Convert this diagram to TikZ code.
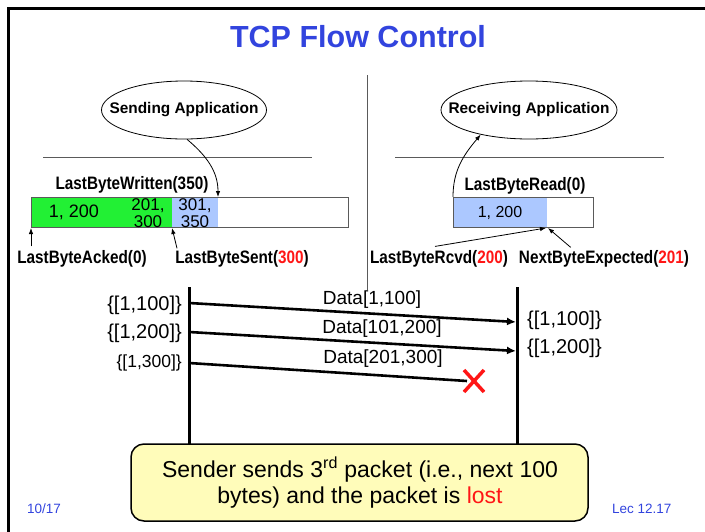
\documentclass[tikz,border=0pt]{standalone}
\usepackage{fontspec}
\setmainfont{Liberation Sans}
\newfontfamily\narrowsans{Liberation Sans}[FakeStretch=0.85]
\usetikzlibrary{shapes.geometric,arrows.meta}

\definecolor{titleblue}{RGB}{50,68,222}
\definecolor{ackgreen}{RGB}{34,240,52}
\definecolor{bufblue}{RGB}{172,200,255}
\definecolor{noteyellow}{RGB}{255,252,186}
\definecolor{lostred}{RGB}{255,22,22}
\definecolor{rulegray}{RGB}{90,90,90}

\tikzset{
  ptrlbl/.style={font=\narrowsans\fontsize{18}{20}\selectfont\bfseries, inner sep=0pt},
  app/.style={ellipse, draw, line width=0.8pt, minimum width=#1, minimum height=58pt, inner sep=0pt},
  applbl/.style={font=\fontsize{15.4}{18}\selectfont\bfseries, inner sep=0pt},
  seqlbl/.style={font=\fontsize{20}{22}\selectfont, inner sep=0pt},
  datalbl/.style={font=\fontsize{19}{22}\selectfont, inner sep=0pt},
  cellval/.style={font=\fontsize{17}{17}\selectfont, align=center, inner sep=0pt},
  ptr/.style={line width=0.8pt, -{Latex[length=6pt,width=4.5pt]}},
  msg/.style={line width=2.6pt, -{Latex[length=9pt,width=8pt]}},
  timeline/.style={line width=3pt},
  divider/.style={draw=rulegray, line width=1pt},
  buf/.style={draw=rulegray, line width=1pt},
  footer/.style={font=\fontsize{13.5}{16}\selectfont, text=titleblue, inner sep=0pt, anchor=base west}
}

\begin{document}
\begin{tikzpicture}[x=1pt,y=-1pt]
  \useasboundingbox (0,0) rectangle (705,531);
  % slide frame
  \draw[line width=3pt] (8,540) -- (8,8) -- (715,8);
  \node[font=\fontsize{30.5}{34}\selectfont\bfseries, text=titleblue] (title) at (358,37) {TCP Flow Control};
  \draw[divider] (367,75) -- (367,290);

  % applications
  \node[app=165pt, label={[applbl]center:Sending Application}] (sendapp) at (184,110) {};
  \node[app=176pt, label={[applbl]center:Receiving Application}] (recvapp) at (529,110) {};
  \draw[divider] (43,157) -- (312,157);
  \draw[divider] (395,157) -- (664,157);

  % sender buffer
  \fill[ackgreen] (31,197) rectangle (172,227);
  \fill[bufblue] (172,197) rectangle (218,227);
  \draw[buf] (31,197) rectangle (348,227);
  \node[cellval, font=\fontsize{18}{18}\selectfont] (snd1) at (74,212) {1, 200};
  \node[cellval] (snd2) at (148,213) {201,\\300};
  \node[cellval] (snd3) at (195,213) {301,\\350};
  \coordinate (wrpt) at (218,197);
  \coordinate (ackpt) at (31,228);
  \coordinate (sentpt) at (172,228);
  \node[ptrlbl] (wrlbl) at (132,185) {LastByteWritten(350)};
  \node[ptrlbl] (acklbl) at (82,259) {LastByteAcked(0)};
  \node[ptrlbl] (sentlbl) at (242,259) {LastByteSent(\textcolor{lostred}{300})};
  \draw[ptr] (sendapp.-84) to[out=-40,in=90] (wrpt);
  \draw[ptr] (acklbl.north -| ackpt) ++(0,-4) -- (ackpt);
  \draw[ptr] (sentlbl.north west) ++(2,-2) -- (sentpt);

  % receiver buffer
  \fill[bufblue] (453,197) rectangle (547,227);
  \draw[buf] (453,197) rectangle (593,227);
  \node[cellval, font=\fontsize{16}{16}\selectfont] (rcv1) at (500,213) {1, 200};
  \coordinate (readpt) at (453,197);
  \coordinate (rcvdpt) at (546,228);
  \coordinate (nextpt) at (548,228);
  \node[ptrlbl] (readlbl) at (525,186) {LastByteRead(0)};
  \node[ptrlbl] (rcvdlbl) at (439,259) {LastByteRcvd(\textcolor{lostred}{200})};
  \node[ptrlbl] (nextlbl) at (604,259) {NextByteExpected(\textcolor{lostred}{201})};
  \draw[ptr] (readpt) to[out=90,in=-130] (recvapp.207);
  \draw[ptr] (rcvdlbl.north) ++(-4,-4) -- (rcvdpt);
  \draw[ptr] (nextlbl.north west) ++(52,-3) -- (nextpt);

  % time lines
  \coordinate (sndtop) at (189,287);
  \coordinate (sndbot) at (189,450);
  \coordinate (rcvtop) at (517,287);
  \coordinate (rcvbot) at (517,450);
  \draw[timeline] (sndtop) -- (sndbot);
  \draw[timeline] (rcvtop) -- (rcvbot);

  % segments
  \coordinate (s1) at (189,303);
  \coordinate (r1) at (516,322);
  \coordinate (s2) at (189,332);
  \coordinate (r2) at (516,351);
  \coordinate (s3) at (189,363);
  \coordinate (lost) at (467,381);
  \draw[msg] (s1) -- (r1);
  \draw[msg] (s2) -- (r2);
  \draw[line width=2.6pt] (s3) -- (lost);
  \node[datalbl] (d1) at (372,300) {Data[1,100]};
  \node[datalbl] (d2) at (382,329) {Data[101,200]};
  \node[datalbl] (d3) at (383,359) {Data[201,300]};
  \draw[lostred, line width=3.5pt] (464,370) -- (484,392);
  \draw[lostred, line width=3.5pt] (464,392) -- (484,370);

  \node[seqlbl, anchor=east] (w1) at (182,305) {\{[1,100]\}};
  \node[seqlbl, anchor=east] (w2) at (182,333) {\{[1,200]\}};
  \node[seqlbl, anchor=east, font=\fontsize{17.5}{20}\selectfont] (w3) at (182,363) {\{[1,300]\}};
  \node[seqlbl, anchor=west] (v1) at (527,320) {\{[1,100]\}};
  \node[seqlbl, anchor=west] (v2) at (527,348) {\{[1,200]\}};

  % callout
  \draw[fill=noteyellow, line width=1.5pt, rounded corners=13pt] (131,444) rectangle (588,521);
  \node[align=center, font=\fontsize{23}{26}\selectfont] (note) at (360,483)
    {Sender sends 3\textsuperscript{rd} packet (i.e., next 100\\bytes) and the packet is \textcolor{lostred}{lost}};

  \node[footer] (date) at (27,513) {10/17};
  \node[footer] (lec) at (612,513) {Lec 12.17};
\end{tikzpicture}
\end{document}
